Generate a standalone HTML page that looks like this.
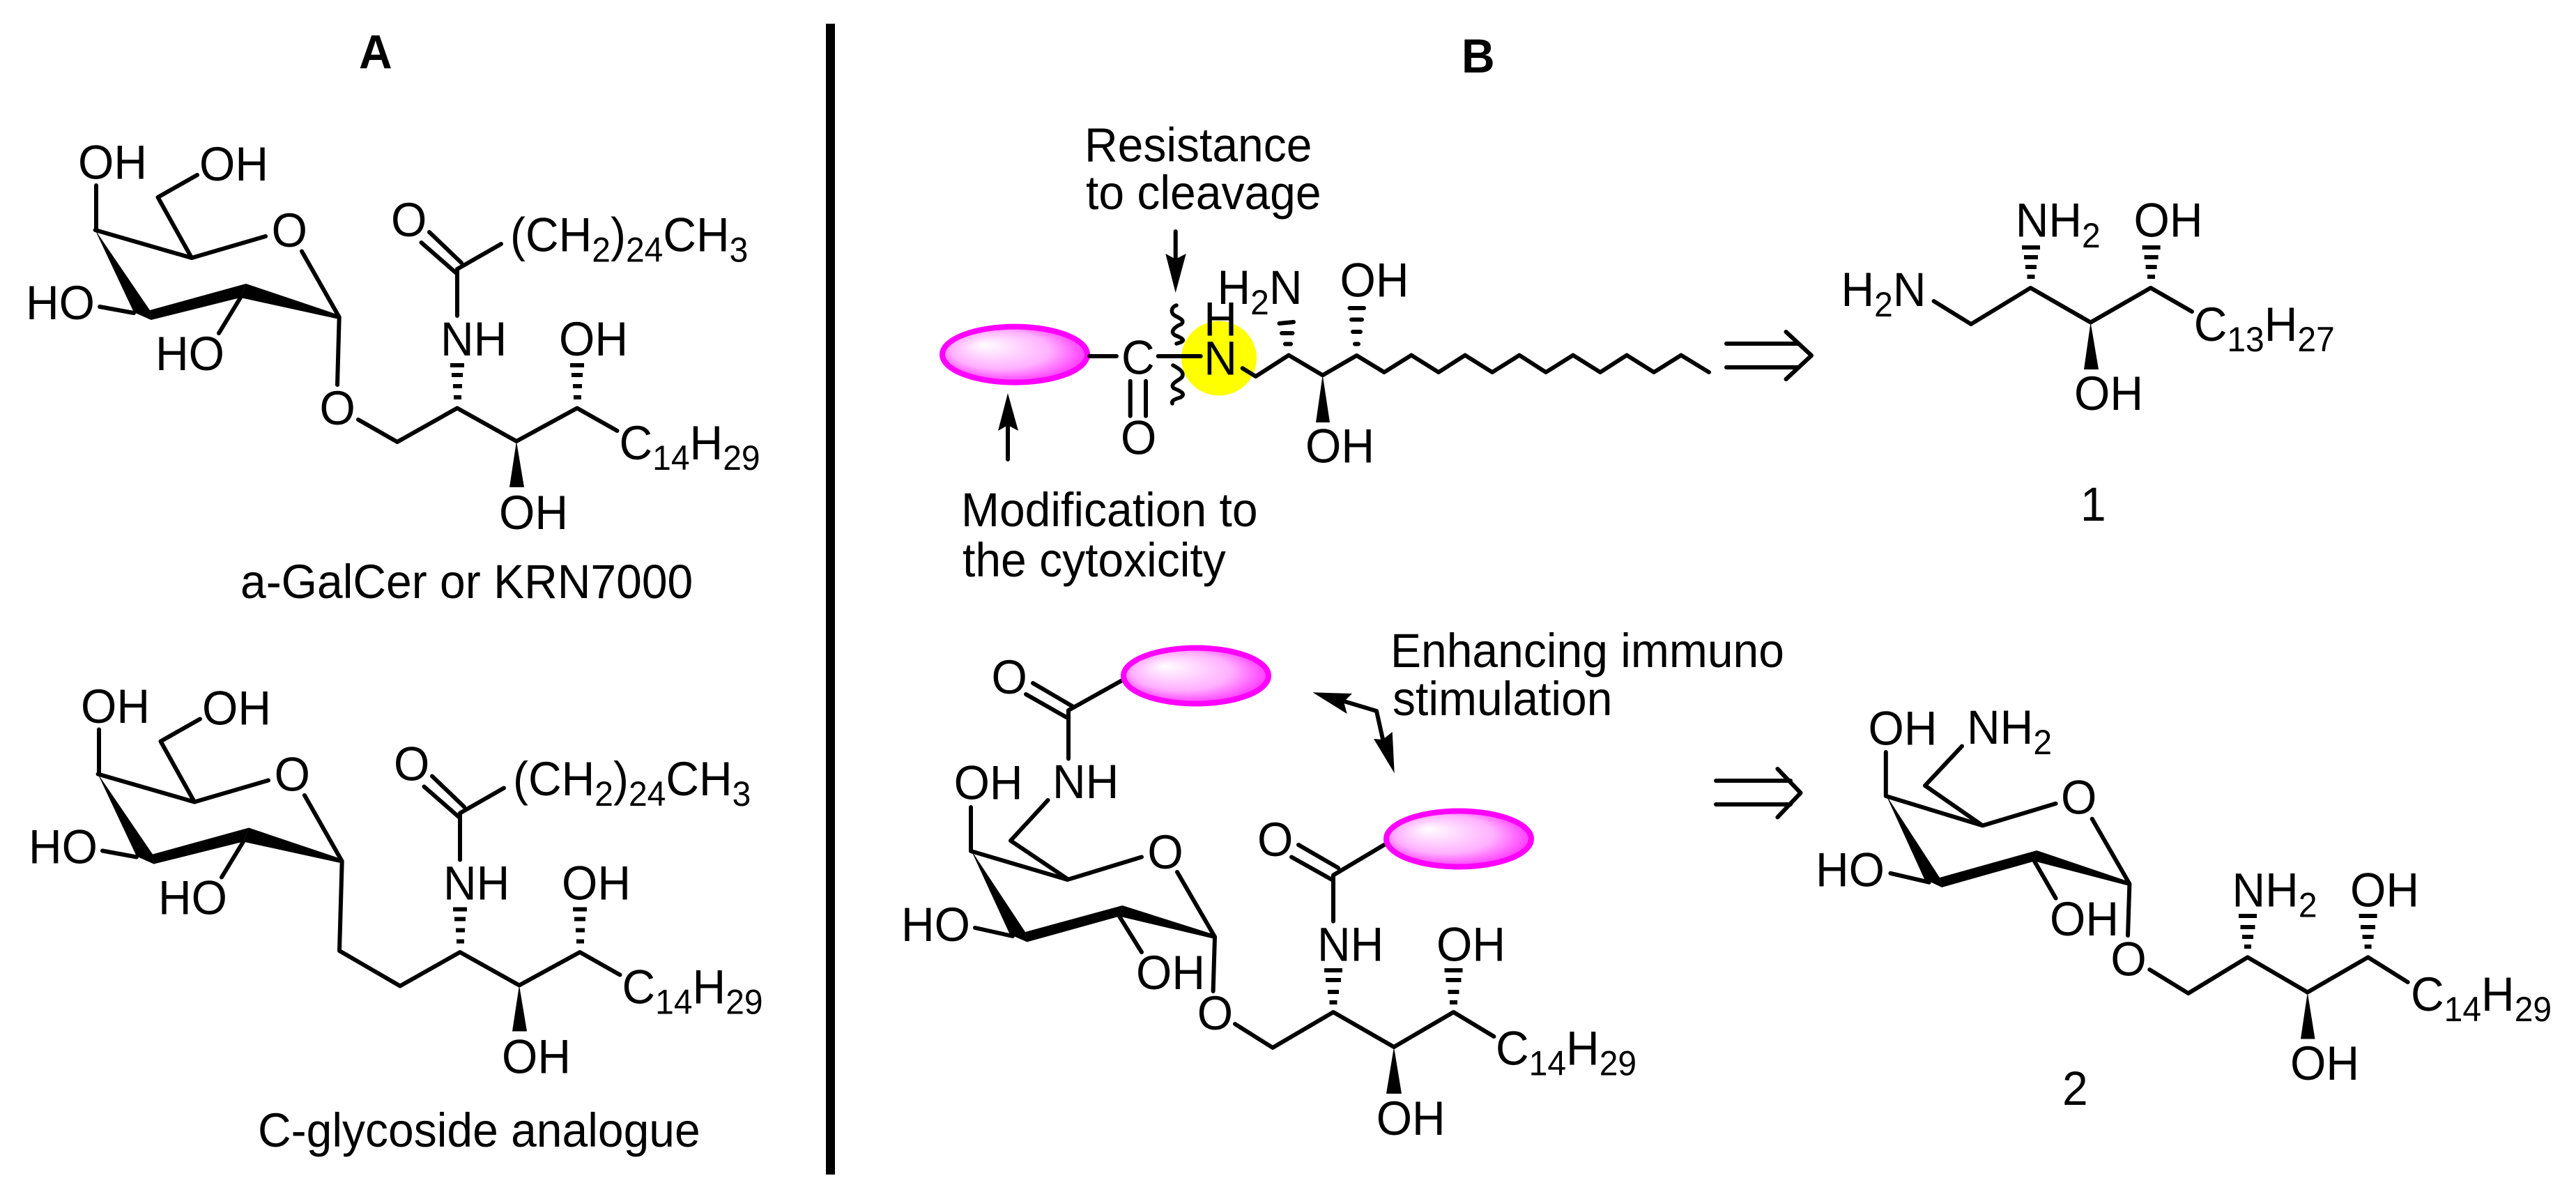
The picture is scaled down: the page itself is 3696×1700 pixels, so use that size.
<!DOCTYPE html>
<html>
<head>
<meta charset="utf-8">
<title>Diagram</title>
<style>
html,body{margin:0;padding:0;background:#fff;width:3696px;height:1700px;overflow:hidden}
svg{display:block;position:absolute;left:0;top:0}
text{font-family:"Liberation Sans",sans-serif;font-size:66px;fill:#000}
.b{font-weight:bold}
.s{font-size:48px}
.l{fill:none;stroke:#000;stroke-width:6;stroke-linecap:round;stroke-linejoin:round}
.h{fill:none;stroke:#000;stroke-width:6;stroke-linecap:round}
</style>
</head>
<body>
<svg xmlns="http://www.w3.org/2000/svg" width="3696" height="1700" viewBox="0 0 3696 1700">
<defs>
<radialGradient id="g" cx="0.5" cy="0.5" r="0.62" fx="0.28" fy="0.32">
<stop offset="0" stop-color="#ffffff"/>
<stop offset="0.55" stop-color="#ffb0ff"/>
<stop offset="1" stop-color="#ff00ff"/>
</radialGradient>
</defs>
<rect width="3696" height="1700" fill="#fff"/>

<rect x="1185" y="34" width="13" height="1651" fill="#000"/>
<text class="b" transform="translate(515 98) scale(1 1.04)">A</text>
<text class="b" transform="translate(2097 104) scale(1 1.04)">B</text>

<!-- A top -->
<g>
<path class="l" d="M138 330V266M136.700 330L275 370L381 339M433 360.500L486.700 455M275 370L226.500 283L283 251M143 440L192 449M345 427L314 478M486.700 455L484 552M514 602L570 634L656 585.500L741 633L828 585.500L885.500 618M656 386L719 350M656 386V453M616 333L662 377M604.500 348L656 393"/>
<polygon points="486.700,452 353,407 345,427 486.700,458"/>
<polygon points="353,407 345,427 216.700,459 215,445"/>
<polygon points="136,329 215,445 216.700,459 192,448"/>
<polygon points="741,633 731,699 752,699"/>
<rect x="646" y="521" width="20" height="6"/><rect x="648" y="535" width="16" height="6"/><rect x="650" y="551" width="13" height="6"/><rect x="651" y="567" width="11" height="6"/>
<rect x="818" y="521" width="20" height="6"/><rect x="820" y="535" width="16" height="6"/><rect x="822" y="551" width="13" height="6"/><rect x="823" y="567" width="11" height="6"/>
<text transform="translate(112 256.500) scale(1 1.04)">OH</text>
<text transform="translate(286 259) scale(1 1.04)">OH</text>
<text transform="translate(389.600 354) scale(1 1.04)">O</text>
<text transform="translate(561 339) scale(1 1.04)">O</text>
<text transform="translate(732 360.500) scale(1 1.04)">(CH<tspan class="s" dy="14.500">2</tspan><tspan dy="-14.500">)</tspan><tspan class="s" dy="14.500">24</tspan><tspan dy="-14.500">CH</tspan><tspan class="s" dy="14.500">3</tspan></text>
<text transform="translate(37 458) scale(1 1.04)">HO</text>
<text transform="translate(223 531) scale(1 1.04)">HO</text>
<text transform="translate(632 510) scale(1 1.04)">NH</text>
<text transform="translate(802 510) scale(1 1.04)">OH</text>
<text transform="translate(888.500 659) scale(1 1.04)">C<tspan class="s" dy="14.500">14</tspan><tspan dy="-14.500">H</tspan><tspan class="s" dy="14.500">29</tspan></text>
<text transform="translate(716 759) scale(1 1.04)">OH</text>
<text transform="translate(458.500 609) scale(1 1.04)">O</text>
</g>
<text transform="translate(345 858) scale(1 1.04)">a-GalCer or KRN7000</text>

<!-- A bottom -->
<g transform="translate(4,780.500)">
<path class="l" d="M138 330V266M136.700 330L275 370L381 339M433 360.500L486.700 455M275 370L226.500 283L283 251M143 440L192 449M345 427L314 478M486.700 455L483 583.500L570 634L656 585.500L741 633L828 585.500L885.500 618M656 386L719 350M656 386V453M616 333L662 377M604.500 348L656 393"/>
<polygon points="486.700,452 353,407 345,427 486.700,458"/>
<polygon points="353,407 345,427 216.700,459 215,445"/>
<polygon points="136,329 215,445 216.700,459 192,448"/>
<polygon points="741,633 731,699 752,699"/>
<rect x="646" y="521" width="20" height="6"/><rect x="648" y="535" width="16" height="6"/><rect x="650" y="551" width="13" height="6"/><rect x="651" y="567" width="11" height="6"/>
<rect x="818" y="521" width="20" height="6"/><rect x="820" y="535" width="16" height="6"/><rect x="822" y="551" width="13" height="6"/><rect x="823" y="567" width="11" height="6"/>
<text transform="translate(112 256.500) scale(1 1.04)">OH</text>
<text transform="translate(286 259) scale(1 1.04)">OH</text>
<text transform="translate(389.600 354) scale(1 1.04)">O</text>
<text transform="translate(561 339) scale(1 1.04)">O</text>
<text transform="translate(732 360.500) scale(1 1.04)">(CH<tspan class="s" dy="14.500">2</tspan><tspan dy="-14.500">)</tspan><tspan class="s" dy="14.500">24</tspan><tspan dy="-14.500">CH</tspan><tspan class="s" dy="14.500">3</tspan></text>
<text transform="translate(37 458) scale(1 1.04)">HO</text>
<text transform="translate(223 531) scale(1 1.04)">HO</text>
<text transform="translate(632 510) scale(1 1.04)">NH</text>
<text transform="translate(802 510) scale(1 1.04)">OH</text>
<text transform="translate(888.500 659) scale(1 1.04)">C<tspan class="s" dy="14.500">14</tspan><tspan dy="-14.500">H</tspan><tspan class="s" dy="14.500">29</tspan></text>
<text transform="translate(716 759) scale(1 1.04)">OH</text>
</g>
<text transform="translate(370 1645) scale(1 1.04)">C-glycoside analogue</text>

<!-- B top -->
<ellipse cx="1749" cy="514" rx="54" ry="53.500" fill="#ffff00"/>
<ellipse cx="1456" cy="508.600" rx="104" ry="40" fill="url(#g)" stroke="#ff00ff" stroke-width="8"/>
<text transform="translate(1556 231.500) scale(1 1.04)">Resistance</text>
<text transform="translate(1558 300) scale(1 1.04)">to cleavage</text>
<text transform="translate(1379 755) scale(1 1.04)">Modification to</text>
<text transform="translate(1381 827) scale(1 1.04)">the cytoxicity</text>
<path class="l" d="M1686.700 332V375M1446 659V610M1563 511H1602M1661.700 511H1722.700M1621.700 546.700V596.700M1644 546.700V596.700"/>
<polygon points="1686.700,420 1701.700,364 1686.700,371.700 1672.300,364"/>
<polygon points="1446,564 1461,618 1446,610 1432,618"/>
<path d="M1688 438C1679 441 1680 450 1686 453C1694 457 1700 460 1695 465C1685 469 1678 476 1686 481C1694 484 1702 488 1694 491L1688 493M1683 524C1690 528 1700 533 1696 541C1690 547 1678 550 1684 557C1694 561 1702 565 1694 570C1688 572 1680 574 1682 579" fill="none" stroke="#000" stroke-width="5.500" stroke-linecap="round"/>
<text transform="translate(1609 536.500) scale(1 1.04)">C</text>
<text transform="translate(1608 651.500) scale(1 1.04)">O</text>
<text transform="translate(1727.300 537.300) scale(1 1.04)">N</text>
<text transform="translate(1727.300 481.700) scale(1 1.04)">H</text>
<text transform="translate(1746.500 436) scale(1 1.04)">H<tspan class="s" dy="14.500">2</tspan><tspan dy="-14.500">N</tspan></text>
<text transform="translate(1922.500 425.500) scale(1 1.04)">OH</text>
<text transform="translate(1873 663.500) scale(1 1.04)">OH</text>
<path class="l" d="M1782.700 528.300L1801.700 540L1849 509.600L1897.700 538.300L1946.500 510L1986 534L2025 509.600L2064 534L2102 509.600L2141 534L2180 509.600L2218 534L2257 509.600L2296 534L2334 509.600L2373 534L2412 509.600L2452 534"/>
<polygon points="1897.700,538 1888,606 1908,606"/>
<path class="h" d="M1835.500 464L1856 462M1839 478H1854.500M1844 493.500H1852"/>
<path class="h" d="M1936.500 442H1957M1939 458.500H1954M1941 476H1952M1944 493.500H1949"/>

<path class="l" d="M2477 493H2580M2477 527H2580M2562.500 476L2599 510L2562.500 544"/>

<!-- Structure 1 -->
<text transform="translate(2641.500 439) scale(1 1.04)">H<tspan class="s" dy="14.500">2</tspan><tspan dy="-14.500">N</tspan></text>
<path class="l" d="M2774.600 432L2828 465L2913.400 413L2999.600 462.500L3085.800 413L3145 447"/>
<polygon points="2999.600,462.500 2990,530 3011,530"/>
<text transform="translate(2891.700 339.700) scale(1 1.04)">NH<tspan class="s" dy="14.500">2</tspan></text>
<text transform="translate(3061.500 339.700) scale(1 1.04)">OH</text>
<rect x="2901" y="352" width="26" height="6"/><rect x="2904" y="366" width="20" height="6"/><rect x="2906" y="380" width="16" height="6"/><rect x="2908.500" y="394" width="11" height="6"/>
<rect x="3073.600" y="352" width="26" height="6"/><rect x="3076.600" y="366" width="20" height="6"/><rect x="3078.600" y="380" width="16" height="6"/><rect x="3081" y="394" width="11" height="6"/>
<text transform="translate(2976 588) scale(1 1.04)">OH</text>
<text transform="translate(3147.700 489) scale(1 1.04)">C<tspan class="s" dy="14.500">13</tspan><tspan dy="-14.500">H</tspan><tspan class="s" dy="14.500">27</tspan></text>
<text transform="translate(2985 747) scale(1 1.04)">1</text>

<!-- B bottom left -->
<text transform="translate(1995 957) scale(1 1.04)">Enhancing immuno</text>
<text transform="translate(1998 1026) scale(1 1.04)">stimulation</text>
<path class="l" d="M1533 1019L1610 976M1533 1019V1088.500M1482 980L1540 1014M1472 996L1530 1029M1503.500 1148L1450 1206L1531.600 1261M1393 1221V1158M1393 1221L1531.600 1262L1638 1229.500M1689 1251L1743 1344M1399 1331L1453 1343M1606 1314.600L1638 1366M1743 1344L1740.600 1422M1772 1469L1826 1503L1913 1452L2000 1502L2085.500 1452L2143.500 1487M1913 1255.500L1986 1212M1913 1255.500V1321.600M1863 1212L1920 1245M1853 1229.500L1911 1262"/>
<ellipse cx="1716" cy="969.500" rx="104" ry="40" fill="url(#g)" stroke="#ff00ff" stroke-width="8"/>
<ellipse cx="2093" cy="1203.500" rx="104" ry="40" fill="url(#g)" stroke="#ff00ff" stroke-width="8"/>
<polygon points="1743,1341 1610.400,1299 1606,1314.600 1743,1347"/>
<polygon points="1610.400,1299 1606,1314.600 1473.600,1351.400 1471,1337"/>
<polygon points="1393,1219 1471,1337 1473.600,1351.400 1449,1340.600"/>
<polygon points="2000,1502 1989,1569 2011,1569"/>
<rect x="1900" y="1389" width="26" height="6"/><rect x="1902" y="1403" width="22" height="6"/><rect x="1905" y="1420" width="16" height="6"/><rect x="1907.500" y="1435" width="11" height="6"/>
<rect x="2072.500" y="1389" width="26" height="6"/><rect x="2074.500" y="1403" width="22" height="6"/><rect x="2077.500" y="1420" width="16" height="6"/><rect x="2080" y="1435" width="11" height="6"/>
<text transform="translate(1422.500 995) scale(1 1.04)">O</text>
<text transform="translate(1510 1145) scale(1 1.04)">NH</text>
<text transform="translate(1368.600 1146.500) scale(1 1.04)">OH</text>
<text transform="translate(1646.400 1246) scale(1 1.04)">O</text>
<text transform="translate(1293 1350) scale(1 1.04)">HO</text>
<text transform="translate(1630 1419) scale(1 1.04)">OH</text>
<text transform="translate(1717.700 1477) scale(1 1.04)">O</text>
<text transform="translate(1974.700 1628) scale(1 1.04)">OH</text>
<text transform="translate(2146 1527.600) scale(1 1.04)">C<tspan class="s" dy="14.500">14</tspan><tspan dy="-14.500">H</tspan><tspan class="s" dy="14.500">29</tspan></text>
<text transform="translate(1890 1378.500) scale(1 1.04)">NH</text>
<text transform="translate(2061 1378.500) scale(1 1.04)">OH</text>
<text transform="translate(1804 1228) scale(1 1.04)">O</text>
<path class="l" d="M1925 1005L1975 1020L1985 1065"/>
<polygon points="1883.300,993.300 1940,995 1928,1006.700 1932.700,1024"/>
<polygon points="2000.700,1109.300 1971,1060 1984,1061 1997.700,1050"/>

<path class="l" d="M2462 1120H2569M2462 1154H2569M2550.400 1103L2583.500 1137.500L2550.400 1172.400"/>

<!-- Structure 2 -->
<path class="l" d="M2705.800 1142V1079M2815 1070.500L2762 1127L2844.600 1184.400M2705.800 1142L2844.600 1184.400L2949.600 1152.800M3001.700 1174.800L3055.400 1268M2712.400 1252.800L2767.800 1265.700M2919 1235.500L2949.600 1288.600M3055.400 1268L3053 1342M3084.300 1391L3139.700 1425L3224.800 1373.300L3310.800 1423.500L3397.600 1373.300L3454.600 1409"/>
<polygon points="3055.400,1265 2922.300,1220 2919,1235.500 3055.400,1271"/>
<polygon points="2922.300,1220 2919,1235.500 2786,1273 2783,1259"/>
<polygon points="2705.800,1140 2783,1259 2786,1273 2761,1261"/>
<polygon points="3310.800,1423.500 3301,1490.500 3321.500,1490.500"/>
<rect x="3212" y="1311" width="26" height="6"/><rect x="3214.500" y="1327" width="21" height="6"/><rect x="3217" y="1341" width="16" height="6"/><rect x="3220" y="1355" width="10" height="6"/>
<rect x="3384.600" y="1311" width="26" height="6"/><rect x="3387" y="1327" width="21" height="6"/><rect x="3389.600" y="1341" width="16" height="6"/><rect x="3392.600" y="1355" width="10" height="6"/>
<text transform="translate(2680.500 1068.600) scale(1 1.04)">OH</text>
<text transform="translate(2822 1067) scale(1 1.04)">NH<tspan class="s" dy="14.500">2</tspan></text>
<text transform="translate(2957 1167.600) scale(1 1.04)">O</text>
<text transform="translate(2605 1271.400) scale(1 1.04)">HO</text>
<text transform="translate(2941 1342) scale(1 1.04)">OH</text>
<text transform="translate(3028.400 1399.600) scale(1 1.04)">O</text>
<text transform="translate(3202.500 1300.600) scale(1 1.04)">NH<tspan class="s" dy="14.500">2</tspan></text>
<text transform="translate(3372 1300.600) scale(1 1.04)">OH</text>
<text transform="translate(3286 1549) scale(1 1.04)">OH</text>
<text transform="translate(3459 1450) scale(1 1.04)">C<tspan class="s" dy="14.500">14</tspan><tspan dy="-14.500">H</tspan><tspan class="s" dy="14.500">29</tspan></text>
<text transform="translate(2959 1585) scale(1 1.04)">2</text>
</svg>
</body>
</html>
